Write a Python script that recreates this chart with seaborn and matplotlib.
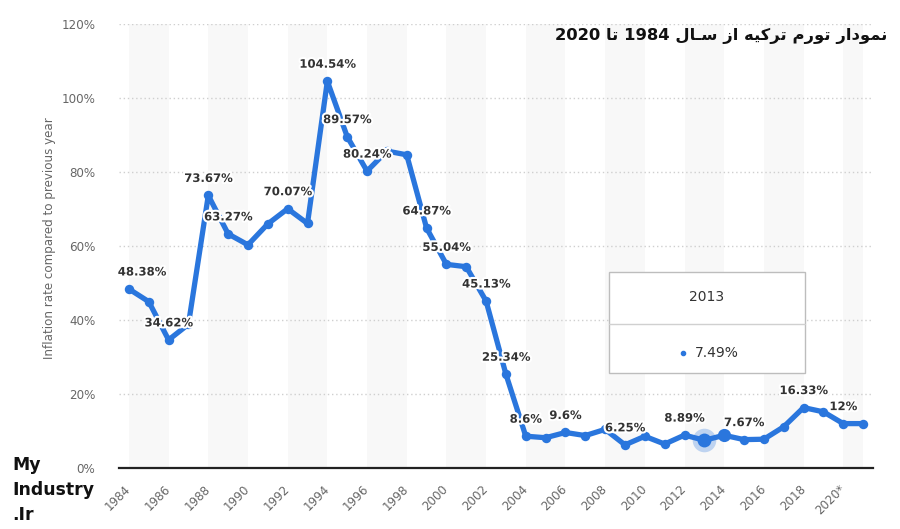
import matplotlib
matplotlib.use("Agg")
import matplotlib.pyplot as plt
import matplotlib.patheffects as pe
from matplotlib.patches import Rectangle
import seaborn as sns
import pandas as pd

# ---------------- data ----------------
years = list(range(1984, 2022))
inflation = [48.38, 44.96, 34.62, 38.85, 73.67, 63.27, 60.31, 65.97, 70.07, 66.09,
             104.54, 89.57, 80.24, 85.67, 84.64, 64.87, 55.04, 54.40, 45.13, 25.34,
             8.60, 8.18, 9.60, 8.76, 10.44, 6.25, 8.57, 6.47, 8.89, 7.49,
             8.85, 7.67, 7.78, 11.14, 16.33, 15.18, 12.00, 12.00]
label_years = [1984, 1986, 1988, 1989, 1992, 1994, 1995, 1996, 1999, 2000, 2002,
               2003, 2004, 2006, 2009, 2012, 2015, 2018, 2020]
tick_years = list(range(1984, 2021, 2))
tick_labels = [str(y) for y in tick_years[:-1]] + ["2020*"]
y_ticks = [0, 20, 40, 60, 80, 100, 120]
y_tick_labels = [f"{v}%" for v in y_ticks]
hover_year = 2013
title_text = "نمودار تورم ترکیه از سـال 1984 تا 2020"
y_label = "Inflation rate compared to previous year"
watermark_lines = ["My", "Industry", ".Ir"]

BLUE = "#2a76dd"

# ------------- minimal Arabic/Persian shaping (matplotlib has no shaping/bidi) -------------
FORMS = {
    'ن': ('\uFEE5', '\uFEE6', '\uFEE7', '\uFEE8'),
    'م': ('\uFEE1', '\uFEE2', '\uFEE3', '\uFEE4'),
    'و': ('\uFEED', '\uFEEE', None, None),
    'د': ('\uFEA9', '\uFEAA', None, None),
    'ا': ('\uFE8D', '\uFE8E', None, None),
    'ر': ('\uFEAD', '\uFEAE', None, None),
    'ز': ('\uFEAF', '\uFEB0', None, None),
    'ت': ('\uFE95', '\uFE96', '\uFE97', '\uFE98'),
    'ک': ('\uFB8E', '\uFB8F', '\uFB90', '\uFB91'),
    'ی': ('\uFBFC', '\uFBFD', '\uFBFE', '\uFBFF'),
    'ه': ('\uFEE9', '\uFEEA', '\uFEEB', '\uFEEC'),
    'س': ('\uFEB1', '\uFEB2', '\uFEB3', '\uFEB4'),
    'ل': ('\uFEDD', '\uFEDE', '\uFEDF', '\uFEE0'),
    'ـ': ('\u0640', '\u0640', '\u0640', '\u0640'),
}


def shape_word(w):
    out = []
    for i, ch in enumerate(w):
        if ch not in FORMS:
            out.append(ch)
            continue
        f = FORMS[ch]
        prev = w[i - 1] if i > 0 else None
        nxt = w[i + 1] if i < len(w) - 1 else None
        jp = prev in FORMS and FORMS[prev][2] is not None
        jn = nxt in FORMS and f[2] is not None
        if jp and jn:
            g = f[3]
        elif jp:
            g = f[1]
        elif jn:
            g = f[2]
        else:
            g = f[0]
        out.append(g)
    return ''.join(reversed(out))


def rtl_visual(text):
    words = text.split(' ')
    vis = []
    for w in reversed(words):
        if any(c in FORMS for c in w):
            vis.append(shape_word(w))
        else:
            vis.append(w)
    return ' '.join(vis)


# ---------------- figure ----------------
sns.set_theme(style="white")
plt.rcParams['font.family'] = ['DejaVu Sans']

fig = plt.figure(figsize=(9.0, 5.29), dpi=100)
W, H = 900, 529
ax_l, ax_r, ax_t, ax_b = 119, 873, 24, 468
ax = fig.add_axes([ax_l / W, 1 - ax_b / H, (ax_r - ax_l) / W, (ax_b - ax_t) / H])

df = pd.DataFrame({"year": years, "inflation": inflation})

ax.set_xlim(1983.5, 2021.5)
ax.set_ylim(0, 120)

# alternate vertical bands
for start in range(1984, 2022, 4):
    ax.axvspan(start, min(start + 2, 2021), color="#f8f8f8", zorder=0, lw=0)

sns.lineplot(data=df, x="year", y="inflation", ax=ax, color=BLUE, linewidth=3.8,
             marker="o", markersize=6.8, markeredgewidth=0, zorder=3)

# hover highlight
hv = inflation[years.index(hover_year)]
ax.plot([hover_year], [hv], "o", color=BLUE, alpha=0.28, markersize=17, markeredgewidth=0, zorder=4)
ax.plot([hover_year], [hv], "o", color=BLUE, markersize=10, markeredgewidth=0, zorder=5)
nx = hover_year + 1
ax.plot([nx], [inflation[years.index(nx)]], "o", color=BLUE, markersize=9.5, markeredgewidth=0, zorder=5)

# data labels
for yr in label_years:
    v = inflation[years.index(yr)]
    dx = 13 if yr == years[0] else 0
    ax.annotate(f"{v:g}%", (yr, v), xytext=(dx, 17), textcoords="offset pixels",
                ha="center", va="center", fontsize=8.4, fontweight="bold", color="#333333",
                path_effects=[pe.withStroke(linewidth=3, foreground="white")], zorder=6)

# axes styling
ax.set_yticks(y_ticks)
ax.set_yticklabels(y_tick_labels)
ax.set_xticks(tick_years)
ax.set_xticklabels(tick_labels, rotation=45, ha="right", va="center", rotation_mode="anchor")
ax.tick_params(axis="y", length=0, pad=17, labelsize=8.6, labelcolor="#666666")
ax.tick_params(axis="x", length=0, pad=14, labelsize=8.6, labelcolor="#666666")
ax.yaxis.grid(True, linestyle=(0, (1, 2)), color="#cfcfcf", linewidth=1)
ax.xaxis.grid(False)
for s in ["top", "right", "left"]:
    ax.spines[s].set_visible(False)
ax.spines["bottom"].set_color("#222222")
ax.spines["bottom"].set_linewidth(1.6)
ax.set_xlabel("")
ax.set_ylabel("")
ax.set_facecolor("white")

fig.text(50 / W, 1 - 238 / H, y_label, rotation=90, ha="center", va="center",
         fontsize=8.6, color="#666666")

# title
fig.text(887 / W, 1 - 36 / H, rtl_visual(title_text), ha="right", va="center",
         fontsize=11.8, fontweight="bold", color="#111111")

# watermark (three separate lines)
for i, line in enumerate(watermark_lines):
    fig.text(12 / W, 1 - (470 + 25 * i) / H, line, ha="left", va="baseline", fontsize=12.4,
             fontweight="heavy", color="#111111")

# tooltip box
bx0, bx1, by0, by1, sep = 609, 805, 272, 373, 324
fig.patches.append(Rectangle((bx0 / W, 1 - by1 / H), (bx1 - bx0) / W, (by1 - by0) / H,
                             transform=fig.transFigure, facecolor="white",
                             edgecolor="#bdbdbd", linewidth=1, zorder=10))
fig.add_artist(plt.Line2D([bx0 / W, bx1 / W], [1 - sep / H, 1 - sep / H],
                          transform=fig.transFigure, color="#d0d0d0", linewidth=1, zorder=11))
fig.text((bx0 + bx1) / 2 / W, 1 - 297 / H, str(hover_year), ha="center", va="center",
         fontsize=10, color="#333333", zorder=12)
fig.text(695 / W, 1 - 353 / H, f"{hv:g}%", ha="left", va="center",
         fontsize=10, color="#333333", zorder=12)
fig.add_artist(plt.Line2D([683 / W], [1 - 353 / H], marker="o", markersize=3,
                          color=BLUE, transform=fig.transFigure, zorder=12))

fig.savefig("out.png", dpi=100, facecolor="white")
